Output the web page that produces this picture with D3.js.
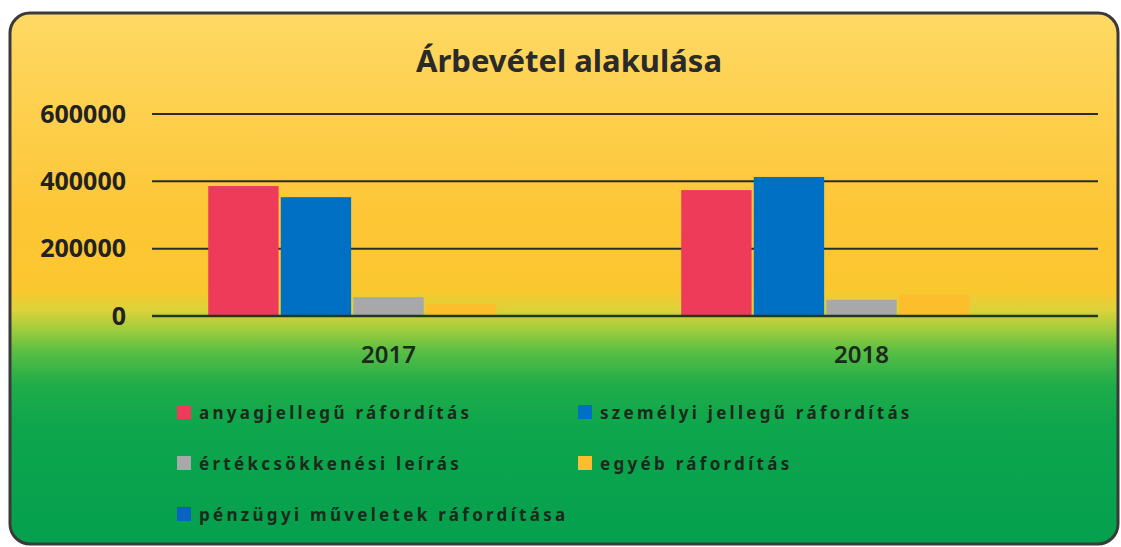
<!DOCTYPE html>
<html>
<head>
<meta charset="utf-8">
<script src="https://cdn.jsdelivr.net/npm/d3@7"></script>
<style>
  body { margin: 0; background: #fff; }
  svg { display: block; }
</style>
</head>
<body>
<div id="chart"></div>
<script>
// data
var years = ["2017", "2018"];
var seriesNames = [
    "anyagjellegű ráfordítás",
    "személyi jellegű ráfordítás",
    "értékcsökkenési leírás",
    "egyéb ráfordítás",
    "pénzügyi műveletek ráfordítása"
];
var values2017 = [386000, 353000, 56000, 35000, 1000];
var values2018 = [374000, 413000, 48000, 65000, 1000];
var yTicks = [0, 200000, 400000, 600000];
var colors = ["#EE3B5A", "#0070C4", "#A8A8A8", "#FDBE2E", "#0A63C2"];

var svgWidth = 1121;
var svgHeight = 547;

var margin = { top: 114, bottom: 231, left: 152, right: 23 };
var width = svgWidth - margin.left - margin.right;
var height = svgHeight - margin.top - margin.bottom;

var font = "'Comic Sans MS', 'Noto Sans', 'DejaVu Sans', sans-serif";

var svg = d3.select("#chart")
    .append("svg")
    .attr("width", svgWidth)
    .attr("height", svgHeight);

// background gradient yellow -> green
var defs = svg.append("defs");
var grad = defs.append("linearGradient")
    .attr("id", "bg")
    .attr("x1", 0).attr("y1", 0).attr("x2", 0).attr("y2", 1);
[
    ["0%", "#FED964"],
    ["38%", "#FDC636"],
    ["52%", "#FBC72F"],
    ["56%", "#DCD23A"],
    ["60%", "#9ACB3E"],
    ["64%", "#55BE44"],
    ["70%", "#20AC4A"],
    ["78%", "#0DA64D"],
    ["100%", "#05A04E"]
].forEach(function(s) {
    grad.append("stop").attr("offset", s[0]).attr("stop-color", s[1]);
});

svg.append("rect")
    .attr("x", 10)
    .attr("y", 13)
    .attr("width", 1108)
    .attr("height", 531)
    .attr("rx", 20)
    .attr("fill", "url(#bg)")
    .attr("stroke", "#3a3a3a")
    .attr("stroke-width", 3);

// title
svg.append("text")
    .attr("x", 569)
    .attr("y", 72)
    .attr("text-anchor", "middle")
    .style("font-family", font)
    .style("font-size", "31px")
    .style("font-weight", "bold")
    .attr("fill", "#2a2a2a")
    .text("Árbevétel alakulása");

var chartGroup = svg.append("g")
    .attr("transform", `translate(${margin.left}, ${margin.top})`);

var xScale = d3.scaleBand()
    .domain(years)
    .range([0, width]);

var xInner = d3.scaleBand()
    .domain(d3.range(seriesNames.length))
    .range([0, xScale.bandwidth()])
    .paddingOuter(0.775)
    .paddingInner(0.03);

var yScale = d3.scaleLinear()
    .domain([0, 600000])
    .range([height, 0]);

// gridlines
chartGroup.append("g")
    .selectAll("line")
    .data(yTicks)
    .enter()
    .append("line")
    .attr("x1", 0)
    .attr("x2", width)
    .attr("y1", d => yScale(d))
    .attr("y2", d => yScale(d))
    .attr("stroke", "#2b2b2b")
    .attr("stroke-width", 2);

// y labels
var leftAxis = d3.axisLeft(yScale)
    .tickValues(yTicks)
    .tickFormat(d3.format("d"))
    .tickSize(0)
    .tickPadding(26);
var yAxisG = chartGroup.append("g").call(leftAxis);
yAxisG.select(".domain").remove();
yAxisG.selectAll("text")
    .style("font-family", font)
    .style("font-size", "25px")
    .style("font-weight", "bold")
    .attr("fill", "#222");

// bars
var rows = years.map(function(y, i) {
    return { year: y, vals: i === 0 ? values2017 : values2018 };
});

var groups = chartGroup.selectAll(".year")
    .data(rows)
    .enter()
    .append("g")
    .attr("transform", d => `translate(${xScale(d.year)}, 0)`);

groups.selectAll("rect")
    .data(d => d.vals)
    .enter()
    .append("rect")
    .attr("x", (d, i) => xInner(i))
    .attr("width", xInner.bandwidth())
    .attr("y", d => yScale(d))
    .attr("height", d => height - yScale(d))
    .attr("fill", (d, i) => colors[i]);

// redraw baseline over bars
chartGroup.append("line")
    .attr("x1", 0).attr("x2", width)
    .attr("y1", yScale(0)).attr("y2", yScale(0))
    .attr("stroke", "#1f3a1a")
    .attr("stroke-width", 2.5);

// x labels
var bottomAxis = d3.axisBottom(xScale).tickSize(0).tickPadding(30);
var xAxisG = chartGroup.append("g")
    .attr("transform", `translate(0, ${height})`)
    .call(bottomAxis);
xAxisG.select(".domain").remove();
xAxisG.selectAll("text")
    .style("font-family", font)
    .style("font-size", "24px")
    .style("font-weight", "600")
    .attr("fill", "#1c2a1c");

// legend
var legendPos = [
    [177, 413], [578, 413],
    [177, 464], [578, 464],
    [177, 515]
];

var legend = svg.append("g")
    .selectAll("g")
    .data(seriesNames)
    .enter()
    .append("g")
    .attr("transform", (d, i) => `translate(${legendPos[i][0]}, ${legendPos[i][1]})`);

legend.append("rect")
    .attr("x", 0)
    .attr("y", -8)
    .attr("width", 14)
    .attr("height", 14)
    .attr("fill", (d, i) => colors[i]);

legend.append("text")
    .attr("x", 22)
    .attr("y", 6)
    .style("font-family", font)
    .style("font-size", "17px")
    .style("font-weight", "bold")
    .style("letter-spacing", "3.3px")
    .attr("fill", "#1a2a1a")
    .text(d => d);
</script>
</body>
</html>
